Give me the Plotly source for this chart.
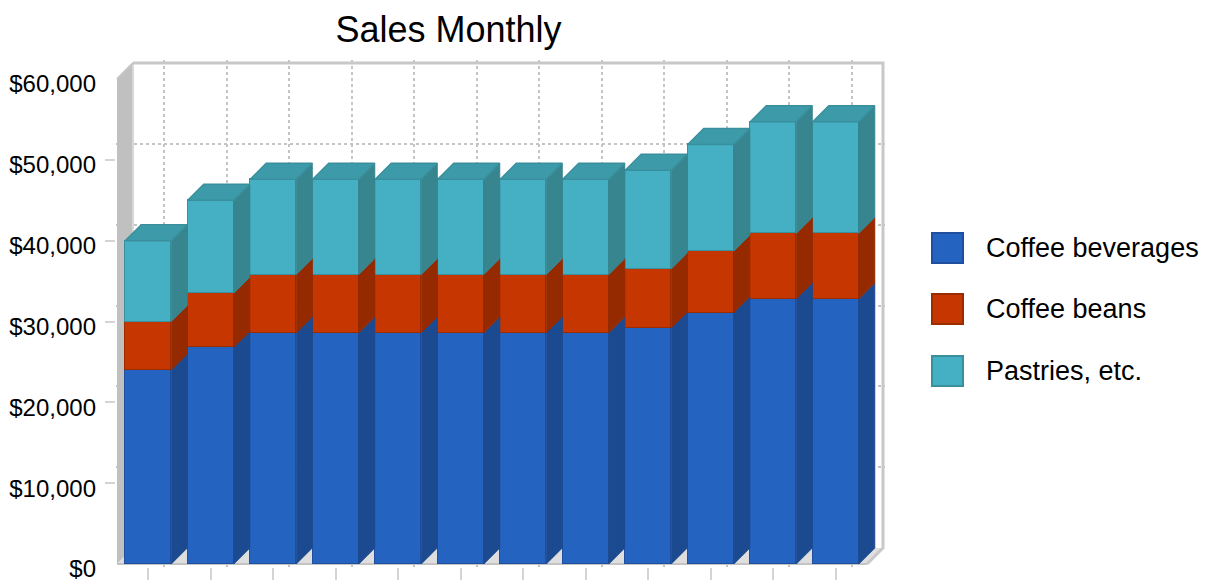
import plotly.graph_objects as go

# ---------------- data ----------------
months = ["Jan", "Feb", "Mar", "Apr", "May", "Jun", "Jul", "Aug", "Sep", "Oct", "Nov", "Dec"]
series_names = ["Coffee beverages", "Coffee beans", "Pastries, etc."]
coffee_beverages = [24000, 26800, 28600, 28600, 28600, 28600, 28600, 28600, 29200, 31100, 32800, 32800]
coffee_beans = [6000, 6700, 7200, 7200, 7200, 7200, 7200, 7200, 7300, 7600, 8100, 8100]
pastries = [10000, 11500, 11800, 11800, 11800, 11800, 11800, 11800, 12200, 13200, 13800, 13800]
y_tick_values = [0, 10000, 20000, 30000, 40000, 50000, 60000]
y_tick_labels = ["$0", "$10,000", "$20,000", "$30,000", "$40,000", "$50,000", "$60,000"]
title_text = "Sales Monthly"

series_values = [coffee_beverages, coffee_beans, pastries]

# ---------------- styling / geometry ----------------
FONT = "Liberation Sans, Arial, Helvetica, sans-serif"
FRONT = ["#2563c0", "#c63600", "#45afc3"]
SIDE = ["#1c4a91", "#952a00", "#36858f"]
TOP = ["#2a5aa8", "#a83000", "#3d9aa9"]
EDGE = ["#1f4f9e", "#9a2c00", "#3a8f9d"]

W, H = 1211, 580
OFF = 8  # page body margin: figure pixel = screen pixel - OFF


def s2f(p):
    return p - OFF


PLOT_L, PLOT_R, PLOT_T, PLOT_B = s2f(116), s2f(885), s2f(60), s2f(567)
X0_PX = s2f(117.0)          # front-left edge (category -0.5)
PX_PER_CAT = 62.5
Y0_PX = s2f(564.0)          # value 0 on the front plane
YMAX = 60000
YMAX_PX = s2f(79.0)         # YMAX on the front plane
PX_PER_VAL = (Y0_PX - YMAX_PX) / YMAX
DEPTH_PX = 16.0
BAR_W = 46.0 / PX_PER_CAT

n = len(months)
x_idx = list(range(n))
DX = DEPTH_PX / PX_PER_CAT
DY = DEPTH_PX / PX_PER_VAL
x_lo, x_hi = -0.5, n - 0.5

xrange = [x_lo - (X0_PX - PLOT_L) / PX_PER_CAT, x_lo + (PLOT_R - X0_PX) / PX_PER_CAT]
yrange = [-(PLOT_B - Y0_PX) / PX_PER_VAL, (Y0_PX - PLOT_T) / PX_PER_VAL]

fig = go.Figure()

# front faces (stacked bars)
for s, vals in enumerate(series_values):
    fig.add_trace(go.Bar(
        x=x_idx, y=vals, name=series_names[s], width=BAR_W,
        marker=dict(color=FRONT[s], line=dict(color=EDGE[s], width=1.5)),
        customdata=months, hovertemplate="%{customdata}: $%{y:,}<extra>" + series_names[s] + "</extra>",
        showlegend=False,
    ))

# side faces and top faces (3D extrusion)
bases = [0] * n
for s, vals in enumerate(series_values):
    sx, sy, tx, ty = [], [], [], []
    for i, v in enumerate(vals):
        b = bases[i]
        t = b + v
        xl, xr = i - BAR_W / 2, i + BAR_W / 2
        sx += [xr, xr + DX, xr + DX, xr, xr, None]
        sy += [b, b + DY, t + DY, t, b, None]
        if s == len(series_values) - 1:
            tx += [xl, xl + DX, xr + DX, xr, xl, None]
            ty += [t, t + DY, t + DY, t, t, None]
        bases[i] = t
    fig.add_trace(go.Scatter(x=sx, y=sy, mode="lines", fill="toself", fillcolor=SIDE[s],
                             line=dict(color=SIDE[s], width=1), hoverinfo="skip", showlegend=False))
    if tx:
        fig.add_trace(go.Scatter(x=tx, y=ty, mode="lines", fill="toself", fillcolor=TOP[s],
                                 line=dict(color=EDGE[s], width=1.5), hoverinfo="skip", showlegend=False))

# walls / floor
shapes = []
wall_path = (f"M{x_lo},{0} L{x_lo},{YMAX} L{x_lo + DX},{YMAX + DY} "
             f"L{x_lo + DX},{DY} Z")
shapes.append(dict(type="path", path=wall_path, xref="x", yref="y", fillcolor="#c0c0c0",
                   line=dict(width=0), layer="between"))
floor_path = (f"M{x_lo},{0} L{x_hi},{0} L{x_hi + DX},{DY} L{x_lo + DX},{DY} Z")
shapes.append(dict(type="path", path=floor_path, xref="x", yref="y", fillcolor="#dedede",
                   line=dict(width=0), layer="between"))
# back wall borders
shapes.append(dict(type="line", x0=x_lo + DX, x1=x_lo + DX, y0=DY, y1=YMAX + DY, xref="x", yref="y",
                   line=dict(color="#d8d8d8", width=2), layer="between"))
shapes.append(dict(type="path",
                   path=f"M{x_lo + DX},{YMAX + DY} L{x_hi + DX},{YMAX + DY} L{x_hi + DX},{DY} L{x_hi},{0}",
                   xref="x", yref="y", line=dict(color="#c8c8c8", width=3), layer="between"))
shapes.append(dict(type="line", x0=x_lo, x1=x_hi, y0=0, y1=0, xref="x", yref="y",
                   line=dict(color="#c4c4c4", width=2), layer="between"))
shapes.append(dict(type="line", x0=x_lo, x1=x_lo + DX, y0=YMAX, y1=YMAX + DY, xref="x", yref="y",
                   line=dict(color="#c4c4c4", width=2), layer="between"))

# manual legend (large swatches)
def px_to_paper_x(px):
    return (px - PLOT_L) / (PLOT_R - PLOT_L)


def px_to_paper_y(py):
    return (PLOT_B - py) / (PLOT_B - PLOT_T)


annotations = []
LEG_SW_L, LEG_SW_R = s2f(932), s2f(963)
LEG_TEXT_X = s2f(984)
LEG_CENTERS = [s2f(248), s2f(309), s2f(371)]
for s, name in enumerate(series_names):
    cy = LEG_CENTERS[s]
    shapes.append(dict(type="rect", xref="paper", yref="paper",
                       x0=px_to_paper_x(LEG_SW_L), x1=px_to_paper_x(LEG_SW_R),
                       y0=px_to_paper_y(cy + 15), y1=px_to_paper_y(cy - 15),
                       fillcolor=FRONT[s], line=dict(color=EDGE[s], width=2)))
    annotations.append(dict(text=name, xref="paper", yref="paper", x=px_to_paper_x(LEG_TEXT_X),
                            y=px_to_paper_y(cy), xanchor="left", yanchor="middle", showarrow=False,
                            font=dict(family=FONT, size=27, color="#000000")))

fig.update_layout(
    width=W, height=H,
    margin=dict(l=PLOT_L, r=W - PLOT_R, t=PLOT_T, b=H - PLOT_B, pad=0, autoexpand=False),
    paper_bgcolor="white", plot_bgcolor="white",
    barmode="stack", bargap=0,
    showlegend=False,
    title=dict(text=title_text, x=s2f(448.5) / W, xanchor="center", xref="container",
               y=1 - s2f(29) / H, yanchor="middle", yref="container", automargin=False,
               font=dict(family=FONT, size=36, color="#000000")),
    font=dict(family=FONT, color="#000000"),
    shapes=shapes, annotations=annotations,
    xaxis=dict(range=xrange, tickvals=x_idx, showticklabels=False, ticks="outside", ticklen=12,
               tickcolor="#d4d4d4", tickwidth=2, showgrid=False, zeroline=False, showline=False,
               fixedrange=True, automargin=False),
    yaxis=dict(range=yrange, tickvals=y_tick_values, ticktext=y_tick_labels, ticks="",
               ticklabelstandoff=19, ticklabelshift=5,
               tickfont=dict(family=FONT, size=24, color="#000000"),
               showgrid=False, zeroline=False, showline=False, fixedrange=True, automargin=False),
    xaxis2=dict(range=[xrange[0] - DX, xrange[1] - DX], overlaying="x", anchor="y2",
                tickvals=x_idx, showticklabels=False, ticks="", showgrid=True, automargin=False,
                gridcolor="#c4c4c4", gridwidth=2, griddash="dot", zeroline=False, showline=False),
    yaxis2=dict(range=[yrange[0] - DY, yrange[1] - DY], overlaying="y", anchor="x2",
                tickvals=y_tick_values[1:-1], showticklabels=False, ticks="", showgrid=True,
                automargin=False,
                gridcolor="#c4c4c4", gridwidth=2, griddash="dot", zeroline=False, showline=False),
    yaxis3=dict(range=yrange, overlaying="y", anchor="x", tickvals=y_tick_values[1:-1],
                showticklabels=False, ticks="outside", ticklen=10, tickcolor="#d4d4d4", tickwidth=2,
                showgrid=False, zeroline=False, showline=False, automargin=False),
)

# anchor traces for the helper axes so they render
fig.add_trace(go.Scatter(x=[None], y=[None], xaxis="x2", yaxis="y2", showlegend=False, hoverinfo="skip"))
fig.add_trace(go.Scatter(x=[None], y=[None], xaxis="x", yaxis="y3", showlegend=False, hoverinfo="skip"))

fig.write_html("out.html")
